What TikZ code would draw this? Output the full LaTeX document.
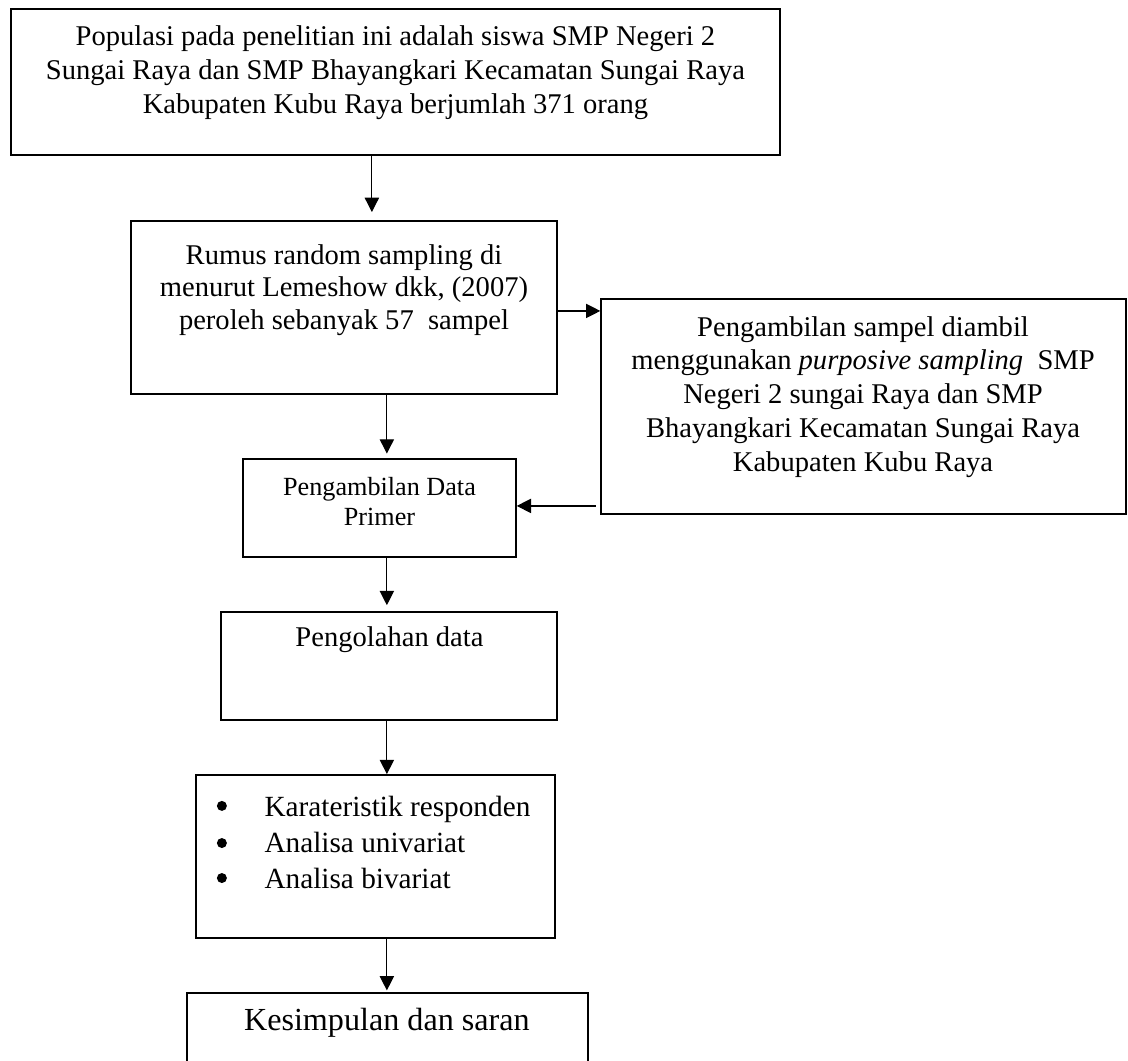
\documentclass[tikz,border=0pt]{standalone}
\usepackage{fontspec}
\setmainfont{Liberation Serif}
\usetikzlibrary{arrows.meta}

\begin{document}
\begin{tikzpicture}[x=1pt,y=-1pt,>={Triangle[length=6pt,width=6pt]},
  box/.style={draw,line width=0.6pt,inner sep=0pt},
  txt/.style={align=center,inner sep=0pt,font=\fontsize{12}{14.2}\selectfont},
  dot/.style={circle,fill,inner sep=0pt,minimum size=4.2pt},
  link/.style={->,line width=0.5pt}]
\useasboundingbox (0,0) rectangle (473.8,445.6);
\coordinate (colA) at (156.2,0);
\coordinate (colB) at (162.5,0);
\coordinate (rowA) at (0,130.6);
\coordinate (rowB) at (0,212.5);
\node[box,minimum width=323pt,minimum height=61.3pt] (pop) at (166.1,34.4) {};
\node[txt] (popT) at (166.1,30.5) {Populasi pada penelitian ini adalah siswa SMP Negeri 2\\Sungai Raya dan SMP Bhayangkari Kecamatan Sungai Raya\\Kabupaten Kubu Raya berjumlah 371 orang};
\node[box,minimum width=178.9pt,minimum height=72.7pt] (rumus) at (144.5,129.2) {};
\node[txt,font=\fontsize{12}{13.7}\selectfont] (rumusT) at (144.5,121.8) {Rumus random sampling di\\menurut Lemeshow dkk, (2007)\\peroleh sebanyak 57~ sampel};
\node[box,minimum width=220.5pt,minimum height=90.3pt] (ambil) at (362.7,170.7) {};
\node[txt] (ambilT) at (362.5,166.7) {Pengambilan sampel diambil\\menggunakan \textit{purposive sampling}~ SMP\\Negeri 2 sungai Raya dan SMP\\Bhayangkari Kecamatan Sungai Raya\\Kabupaten Kubu Raya};
\node[box,minimum width=114.7pt,minimum height=41.2pt] (data) at (159.4,213.4) {};
\node[txt,font=\fontsize{11}{12.6}\selectfont] (dataT) at (159.4,210.8) {Pengambilan Data\\Primer};
\node[box,minimum width=141.1pt,minimum height=45.4pt] (olah) at (163.4,279.7) {};
\node[txt] (olahT) at (163.6,268.8) {Pengolahan data};
\node[box,minimum width=150.8pt,minimum height=68.5pt] (analisa) at (157.7,359.7) {};
\foreach \y [count=\i] in {338.5,354.1,368.8}
  \node[dot] (dot\i) at (93.2,\y) {};
\node[txt,anchor=west,align=left,font=\fontsize{12.3}{15.1}\selectfont] (analisaT) at (110.9,353.8)
  {Karateristik responden\\Analisa univariat\\Analisa bivariat};
\node[box,minimum width=168.5pt,minimum height=34.4pt] (simpul) at (162.8,434.3) {};
\node[txt,font=\fontsize{13.5}{16}\selectfont] (simpulT) at (162.5,429.7) {Kesimpulan dan saran};
\draw[link,shorten >=3.5pt] (pop.south -| colA) -- (rumus.north -| colA);
\draw[link,shorten >=2pt] (rumus.south -| colB) -- (data.north -| colB);
\draw[link,shorten >=2.5pt] (data.south -| colB) -- (olah.north -| colB);
\draw[link] (olah.south -| colB) -- (analisa.north -| colB);
\draw[link,shorten >=0.8pt] (analisa.south -| colB) -- (simpul.north -| colB);
\draw[link] (rumus.east |- rowA) -- (ambil.west |- rowA);
\draw[link,shorten <=2pt] (ambil.west |- rowB) -- (data.east |- rowB);
\end{tikzpicture}
\end{document}
